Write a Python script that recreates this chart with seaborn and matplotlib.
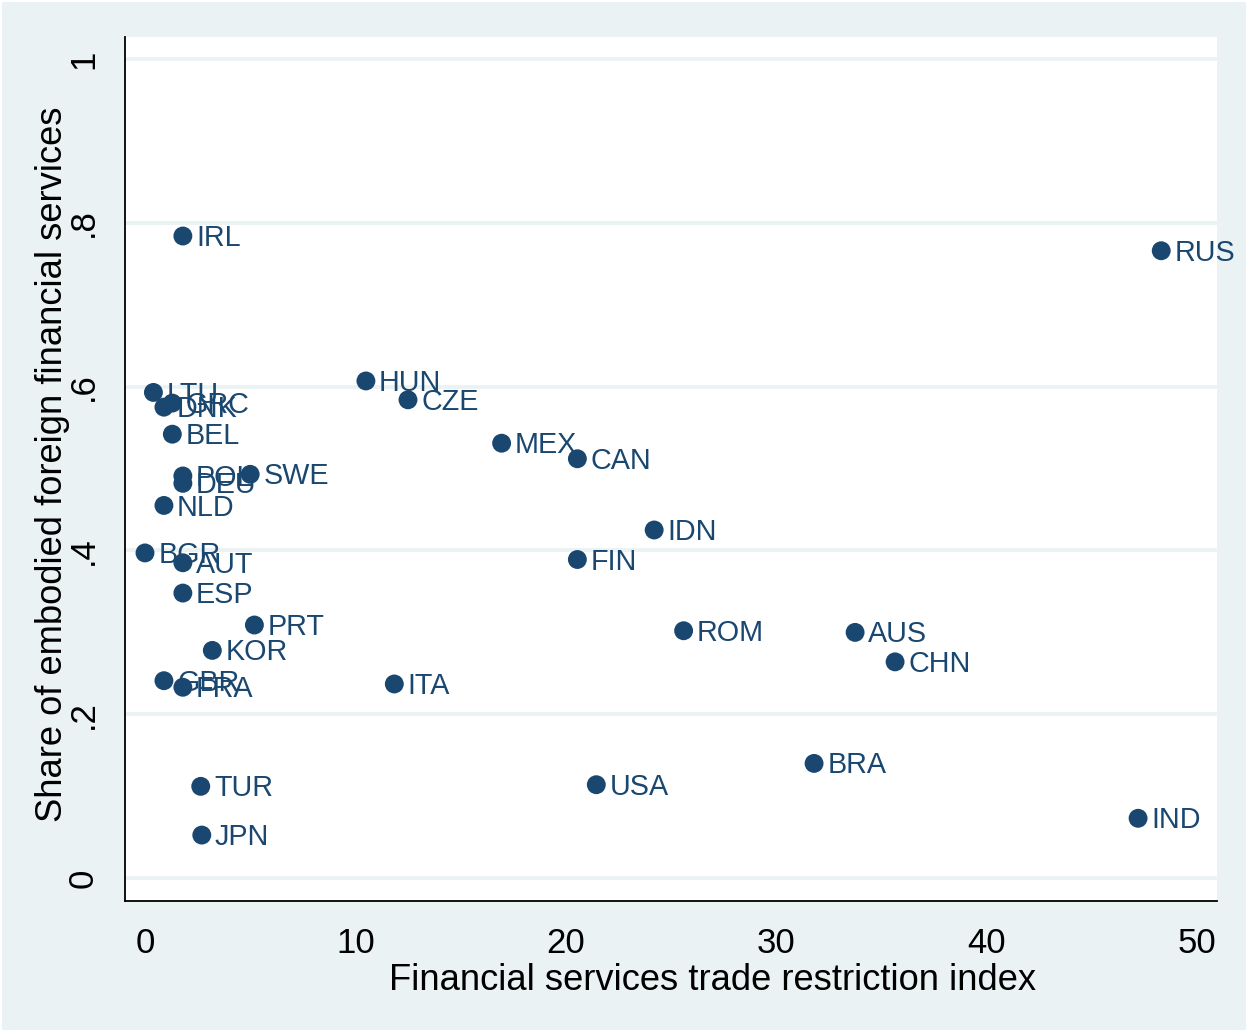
import matplotlib
matplotlib.use("Agg")
import matplotlib.pyplot as plt
import seaborn as sns
import pandas as pd

countries = ["IRL", "RUS", "LTU", "DNK", "GRC", "BEL", "POL", "DEU", "SWE", "NLD",
             "HUN", "CZE", "MEX", "CAN", "IDN", "FIN", "BGR", "AUT", "ESP", "PRT",
             "KOR", "GBR", "FRA", "ITA", "ROM", "AUS", "CHN", "BRA", "USA", "IND",
             "TUR", "JPN"]
restriction = [1.8, 48.3, 0.4, 0.9, 1.3, 1.3, 1.8, 1.8, 5.0, 0.9,
               10.5, 12.5, 16.95, 20.55, 24.2, 20.55, 0.0, 1.8, 1.8, 5.2,
               3.2, 0.9, 1.8, 11.85, 25.6, 33.75, 35.65, 31.8, 21.45, 47.2,
               2.65, 2.7]
share = [0.784, 0.766, 0.593, 0.575, 0.580, 0.542, 0.491, 0.482, 0.493, 0.455,
         0.607, 0.584, 0.531, 0.512, 0.425, 0.389, 0.397, 0.385, 0.348, 0.309,
         0.278, 0.241, 0.233, 0.237, 0.302, 0.300, 0.264, 0.140, 0.114, 0.073,
         0.112, 0.0525]

yticks = [0, 0.2, 0.4, 0.6, 0.8, 1.0]
ytick_labels = ["0", ".2", ".4", ".6", ".8", "1"]
xticks = [0, 10, 20, 30, 40, 50]
xtick_labels = ["0", "10", "20", "30", "40", "50"]

df = pd.DataFrame({"country": countries, "fstri": restriction, "share": share})

sns.set_theme(style="white")
plt.rcParams["font.family"] = ["Liberation Sans", "DejaVu Sans"]

BG = "#EAF2F3"
NAVY = "#1A476F"

fig = plt.figure(figsize=(12.48, 10.34), dpi=100, facecolor="white")
bg = fig.add_axes([2 / 1248, 4 / 1034, 1 - 4 / 1248, 1 - 6 / 1034], zorder=-5)
bg.set_facecolor(BG)
bg.set_xticks([])
bg.set_yticks([])
for s in bg.spines.values():
    s.set_visible(False)

ax = fig.add_axes([125 / 1248, 1 - 901 / 1034, (1217 - 125) / 1248, (901 - 37) / 1034], zorder=1)
ax.set_facecolor("white")

sns.scatterplot(data=df, x="fstri", y="share", ax=ax, color=NAVY, s=185,
                edgecolor="none", linewidth=0, zorder=3, legend=False)

for c, x, y in zip(countries, restriction, share):
    ax.annotate(c, (x, y), xytext=(9.5, -1.5), textcoords="offset points",
                ha="left", va="center", fontsize=20.7, color=NAVY, zorder=4)

ax.set_xlim(-0.95, 50.95)
ax.set_ylim(-0.028, 1.027)
ax.set_yticks(yticks)
ax.set_yticklabels(ytick_labels, rotation=90, va="center")
ax.set_xticks(xticks)
ax.set_xticklabels(xtick_labels)
ax.tick_params(axis="both", direction="out", length=11, width=1.2, color="black",
               labelsize=25, labelcolor="black")
ax.tick_params(axis="x", pad=8)
ax.tick_params(axis="y", pad=7)
for yv in yticks:
    ax.axhline(yv, color=BG, linewidth=2.7, zorder=1)

for side in ["top", "right"]:
    ax.spines[side].set_visible(False)
for side in ["left", "bottom"]:
    ax.spines[side].set_color("black")
    ax.spines[side].set_linewidth(1.3)

ax.set_xlabel("Financial services trade restriction index", fontsize=26.2, color="black", labelpad=2)
ax.set_ylabel("Share of embodied foreign financial services", fontsize=26.2, color="black", labelpad=-2)
ax.xaxis.label.set_x(0.538)
ax.yaxis.label.set_y(0.505)

fig.savefig("out.png", dpi=100, facecolor=fig.get_facecolor())
